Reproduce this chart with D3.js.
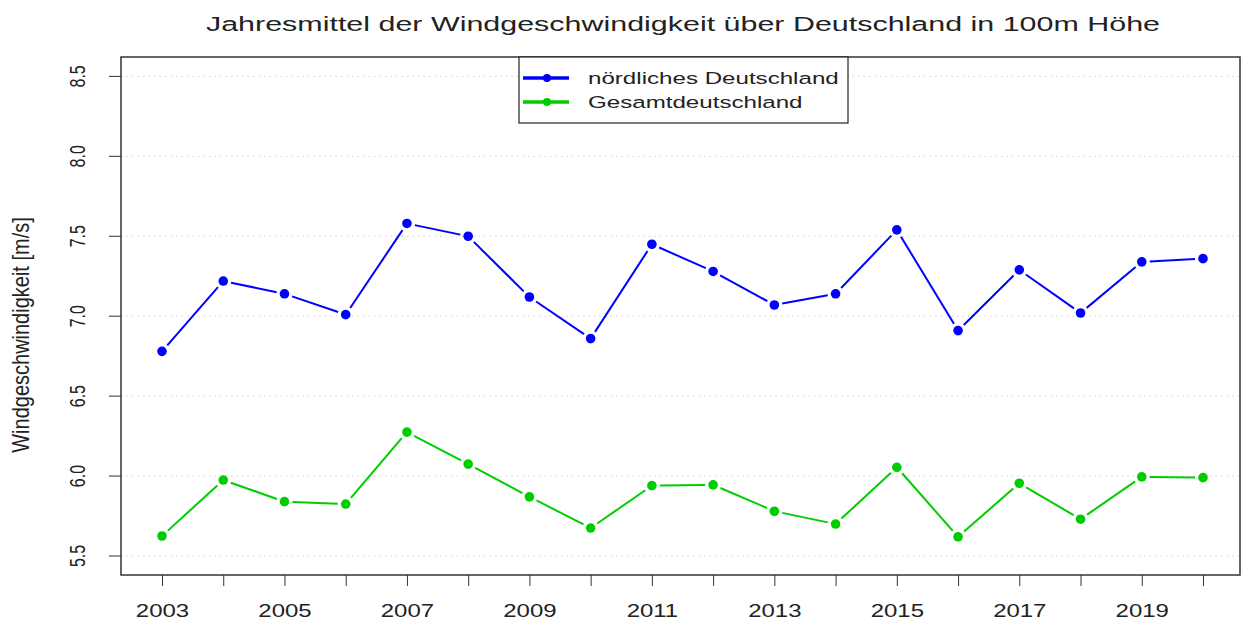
<!DOCTYPE html>
<html>
<head>
<meta charset="utf-8">
<script src="https://cdn.jsdelivr.net/npm/d3@7"></script>
<style>
  body { margin: 0; background: #fff; }
  text { font-family: "Liberation Sans", Arial, sans-serif; fill: #222; }
</style>
</head>
<body>
<svg id="chart"></svg>
<script>
const years = [2003, 2004, 2005, 2006, 2007, 2008, 2009, 2010, 2011, 2012,
               2013, 2014, 2015, 2016, 2017, 2018, 2019, 2020];
const nordValues = [6.78, 7.22, 7.14, 7.01, 7.58, 7.50, 7.12, 6.86, 7.45, 7.28,
                    7.07, 7.14, 7.54, 6.91, 7.29, 7.02, 7.34, 7.36];
const gesamtValues = [5.625, 5.975, 5.84, 5.825, 6.275, 6.075, 5.87, 5.675, 5.94, 5.945,
                      5.78, 5.70, 6.055, 5.62, 5.955, 5.73, 5.995, 5.99];
const yTicks = [5.5, 6.0, 6.5, 7.0, 7.5, 8.0, 8.5];
const xLabelYears = [2003, 2005, 2007, 2009, 2011, 2013, 2015, 2017, 2019];
const seriesNames = ["nördliches Deutschland", "Gesamtdeutschland"];
const seriesColors = ["#0000ff", "#00cd00"];

const width = 1247;
const height = 627;
const box = { left: 121, right: 1240, top: 57, bottom: 575 };
// the original picture is stretched sideways, so text is widened
const stretch = 1.42;

const svg = d3.select("#chart")
  .attr("width", width)
  .attr("height", height);

const x = d3.scaleLinear()
  .domain([2003, 2020])
  .range([162, 1203]);

const y = d3.scaleLinear()
  .domain([5.5, 8.5])
  .range([556, 76.4]);

// title
svg.append("text")
  .attr("transform", `translate(683,31) scale(1.45,1)`)
  .attr("text-anchor", "middle")
  .style("font-size", "21px")
  .text("Jahresmittel der Windgeschwindigkeit über Deutschland in 100m Höhe");

// grid
svg.append("g")
  .selectAll("line")
  .data(yTicks)
  .join("line")
  .attr("x1", box.left)
  .attr("x2", box.right)
  .attr("y1", d => y(d))
  .attr("y2", d => y(d))
  .attr("stroke", "#d3d3d3")
  .attr("stroke-width", 1)
  .attr("stroke-dasharray", "1.5,4");

// y axis
const yAxis = svg.append("g")
  .attr("transform", `translate(${box.left},0)`)
  .call(d3.axisLeft(y).tickValues(yTicks).tickSize(12).tickFormat(d3.format(".1f")));
yAxis.select(".domain").remove();
yAxis.selectAll("line").attr("stroke", "#333");
yAxis.selectAll(".tick").attr("transform", null);
yAxis.selectAll(".tick line")
  .attr("y1", d => y(d))
  .attr("y2", d => y(d));
yAxis.selectAll("text")
  .attr("x", 0)
  .attr("y", 0)
  .attr("dy", 0)
  .attr("transform", d => `translate(-44,${y(d)}) scale(${stretch},1) rotate(-90)`)
  .attr("text-anchor", "middle")
  .attr("dominant-baseline", "central")
  .style("font-size", "16px")
  .style("font-family", "'Liberation Sans', Arial, sans-serif")
  .attr("fill", "#222");

// x axis
const xAxis = svg.append("g")
  .attr("transform", `translate(0,${box.bottom})`)
  .call(d3.axisBottom(x).tickValues(years).tickSize(11)
    .tickFormat(d => xLabelYears.includes(d) ? d : ""));
xAxis.select(".domain").remove();
xAxis.selectAll("line").attr("stroke", "#333");
xAxis.selectAll("text")
  .attr("y", 0)
  .attr("dy", 0)
  .attr("transform", `translate(0,41.5) scale(1.37,1)`)
  .style("font-size", "17.5px")
  .style("font-family", "'Liberation Sans', Arial, sans-serif")
  .attr("fill", "#222");

// axis title
svg.append("text")
  .attr("transform", `translate(29,335) scale(1.2,1) rotate(-90)`)
  .attr("text-anchor", "middle")
  .style("font-size", "20px")
  .text("Windgeschwindigkeit [m/s]");

// series, drawn like R type="b": segments with gaps around points
const gap = 8;
const series = [nordValues, gesamtValues];
series.forEach((vals, si) => {
  const pts = years.map((yr, i) => [x(yr), y(vals[i])]);
  const segs = d3.pairs(pts).map(([a, b]) => {
    const dx = b[0] - a[0], dy = b[1] - a[1];
    const len = Math.hypot(dx, dy);
    const ux = dx / len, uy = dy / len;
    return [a[0] + ux * gap, a[1] + uy * gap, b[0] - ux * gap, b[1] - uy * gap];
  });
  const g = svg.append("g");
  g.selectAll("line")
    .data(segs)
    .join("line")
    .attr("x1", d => d[0]).attr("y1", d => d[1])
    .attr("x2", d => d[2]).attr("y2", d => d[3])
    .attr("stroke", seriesColors[si])
    .attr("stroke-width", 2);
  g.selectAll("circle")
    .data(pts)
    .join("circle")
    .attr("cx", d => d[0])
    .attr("cy", d => d[1])
    .attr("r", 4.8)
    .attr("fill", seriesColors[si]);
});

// plot box
svg.append("rect")
  .attr("x", box.left)
  .attr("y", box.top)
  .attr("width", box.right - box.left)
  .attr("height", box.bottom - box.top)
  .attr("fill", "none")
  .attr("stroke", "#333")
  .attr("stroke-width", 1.5);

// legend
const legend = svg.append("g").attr("transform", "translate(519,57)");
legend.append("rect")
  .attr("width", 329)
  .attr("height", 66)
  .attr("fill", "#fff")
  .attr("stroke", "#222")
  .attr("stroke-width", 1.2);
seriesNames.forEach((name, i) => {
  const ly = 21 + i * 24;
  legend.append("line")
    .attr("x1", 4).attr("x2", 50)
    .attr("y1", ly).attr("y2", ly)
    .attr("stroke", seriesColors[i])
    .attr("stroke-width", 3.5);
  legend.append("circle")
    .attr("cx", 28).attr("cy", ly).attr("r", 4)
    .attr("fill", seriesColors[i]);
  legend.append("text")
    .attr("transform", `translate(69,${ly}) scale(${stretch},1)`)
    .attr("dy", "0.35em")
    .style("font-size", "17px")
    .text(name);
});
</script>
</body>
</html>
